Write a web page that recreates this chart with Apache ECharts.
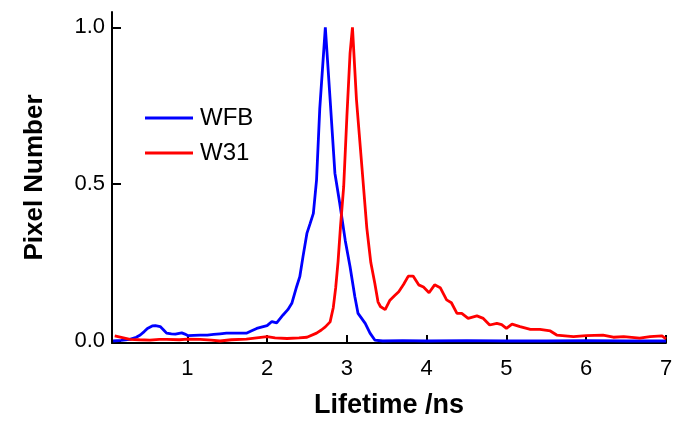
<!DOCTYPE html>
<html>
<head>
<meta charset="utf-8">
<script src="https://cdn.jsdelivr.net/npm/echarts@6/dist/echarts.min.js"></script>
<style>html,body{margin:0;padding:0;background:#fff}#c{width:686px;height:437px}</style>
</head>
<body>
<div id="c"></div>
<script>
const seriesNames = ['WFB', 'W31'];
const xTicks = [1, 2, 3, 4, 5, 6, 7];
const yTicks = [0, 0.5, 1.0];
const wfb = [[0.07,0.0],[0.17,0.002],[0.28,0.005],[0.36,0.012],[0.41,0.019],[0.46,0.03],[0.5,0.04],[0.56,0.048],[0.6,0.049],[0.66,0.046],[0.7,0.036],[0.74,0.025],[0.8,0.023],[0.85,0.022],[0.93,0.026],[0.97,0.022],[1.01,0.017],[1.08,0.018],[1.16,0.019],[1.25,0.019],[1.33,0.021],[1.41,0.023],[1.49,0.025],[1.6,0.025],[1.74,0.025],[1.8,0.032],[1.87,0.04],[1.94,0.045],[2.0,0.049],[2.06,0.062],[2.12,0.058],[2.2,0.083],[2.26,0.1],[2.31,0.12],[2.37,0.173],[2.41,0.205],[2.45,0.269],[2.5,0.344],[2.54,0.375],[2.58,0.407],[2.62,0.514],[2.66,0.74],[2.73,1.0],[2.79,0.77],[2.85,0.535],[2.91,0.44],[2.98,0.32],[3.04,0.237],[3.1,0.141],[3.14,0.088],[3.23,0.056],[3.29,0.025],[3.35,0.003],[3.45,0.0],[3.7,0.001],[4.0,0.0],[4.5,0.001],[5.0,0.0],[5.5,0.0],[6.0,0.001],[6.5,0.0],[7.0,0.0]];
const w31 = [[0.09,0.016],[0.2,0.01],[0.28,0.005],[0.4,0.004],[0.53,0.003],[0.65,0.005],[0.74,0.005],[0.9,0.004],[1.0,0.006],[1.16,0.005],[1.3,0.003],[1.41,0.0],[1.55,0.004],[1.74,0.006],[1.87,0.01],[2.0,0.014],[2.1,0.01],[2.25,0.008],[2.4,0.01],[2.5,0.012],[2.62,0.025],[2.68,0.035],[2.73,0.045],[2.79,0.061],[2.83,0.107],[2.86,0.17],[2.89,0.255],[2.92,0.365],[2.96,0.492],[3.0,0.715],[3.04,0.918],[3.07,1.0],[3.12,0.77],[3.19,0.55],[3.25,0.36],[3.3,0.25],[3.35,0.184],[3.39,0.125],[3.42,0.11],[3.48,0.1],[3.54,0.13],[3.6,0.145],[3.65,0.157],[3.71,0.18],[3.77,0.207],[3.83,0.207],[3.9,0.179],[3.96,0.172],[4.03,0.154],[4.1,0.179],[4.17,0.17],[4.25,0.131],[4.31,0.122],[4.38,0.088],[4.44,0.088],[4.52,0.072],[4.63,0.08],[4.71,0.072],[4.79,0.051],[4.88,0.056],[4.94,0.052],[5.0,0.04],[5.07,0.054],[5.17,0.046],[5.3,0.037],[5.42,0.037],[5.55,0.032],[5.63,0.019],[5.84,0.014],[6.0,0.017],[6.21,0.019],[6.34,0.012],[6.47,0.014],[6.67,0.009],[6.8,0.014],[6.95,0.016],[7.0,0.007]];

const FONT = 'Liberation Sans, Arial, sans-serif';
const chart = echarts.init(document.getElementById('c'), null, {renderer: 'canvas'});
chart.setOption({
  animation: false,
  backgroundColor: '#fff',
  grid: {left: 112, right: 20, top: 12, bottom: 94},
  legend: {
    data: seriesNames,
    orient: 'vertical',
    left: 140,
    top: 101,
    icon: 'rect',
    itemWidth: 48,
    itemHeight: 3,
    itemGap: 11,
    textStyle: {fontSize: 24, color: '#000', fontFamily: FONT, padding: [0,0,0,2]}
  },
  xAxis: {
    type: 'value',
    min: 0.056,
    max: 7,
    name: 'Lifetime /ns',
    nameLocation: 'middle',
    nameGap: 49,
    nameTextStyle: {fontSize: 27, fontWeight: 'bold', color: '#000', fontFamily: FONT},
    axisLine: {show: true, onZero: false, lineStyle: {color: '#000', width: 2}},
    axisTick: {show: true, inside: true, length: 8, customValues: xTicks, lineStyle: {color: '#000', width: 2}},
    axisLabel: {customValues: xTicks, fontSize: 22, color: '#000', fontFamily: FONT, margin: 15},
    splitLine: {show: false}
  },
  yAxis: {
    type: 'value',
    min: -0.0064,
    max: 1.049,
    name: 'Pixel Number',
    nameLocation: 'middle',
    nameGap: 64,
    nameTextStyle: {fontSize: 26, fontWeight: 'bold', color: '#000', fontFamily: FONT},
    axisLine: {show: true, onZero: false, lineStyle: {color: '#000', width: 2}},
    axisTick: {show: true, inside: true, length: 9, customValues: yTicks, lineStyle: {color: '#000', width: 2}},
    axisLabel: {customValues: yTicks, fontSize: 22, color: '#000', fontFamily: FONT, margin: 7,
      formatter: v => v.toFixed(1)},
    splitLine: {show: false}
  },
  series: [
    {name: seriesNames[0], type: 'line', data: wfb, symbol: 'none', color: '#0000ff',
     lineStyle: {width: 2.8, color: '#0000ff'}},
    {name: seriesNames[1], type: 'line', data: w31, symbol: 'none', color: '#ff0000',
     lineStyle: {width: 2.8, color: '#ff0000'}}
  ]
});
</script>
</body>
</html>
